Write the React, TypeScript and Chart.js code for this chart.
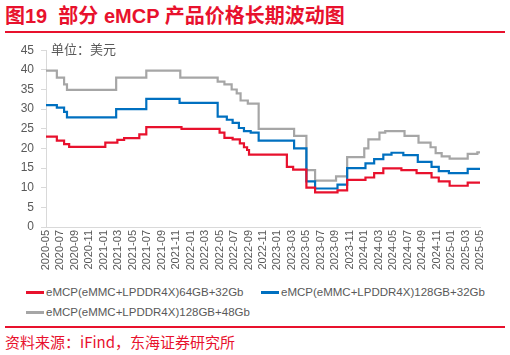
import React, { useEffect, useRef } from "react";
import { Chart, registerables } from "chart.js";

Chart.register(...registerables);

// ---- data ----
const TICK_LABELS = [
  "2020-05", "2020-07", "2020-09", "2020-11", "2021-01", "2021-03", "2021-05", "2021-07",
  "2021-09", "2021-11", "2022-01", "2022-03", "2022-05", "2022-07", "2022-09", "2022-11",
  "2023-01", "2023-03", "2023-05", "2023-07", "2023-09", "2023-11", "2024-01", "2024-03",
  "2024-05", "2024-07", "2024-09", "2024-11", "2025-01", "2025-03", "2025-05",
];

const SERIES_NAMES = [
  "eMCP(eMMC+LPDDR4X)64GB+32Gb",
  "eMCP(eMMC+LPDDR4X)128GB+32Gb",
  "eMCP(eMMC+LPDDR4X)128GB+48Gb",
];

// [date of price change, price in USD]
const SERIES_64GB_32Gb: [string, number][] = [
  ["2020-05-01", 23], ["2020-06-16", 22], ["2020-07-16", 21.1], ["2020-08-07", 20.4],
  ["2021-01-07", 21.5], ["2021-02-27", 22.2], ["2021-03-25", 22.6], ["2021-05-28", 23.6],
  ["2021-06-27", 25.4], ["2021-11-23", 25], ["2022-05-01", 24], ["2022-05-21", 22.7],
  ["2022-06-25", 22.3], ["2022-07-25", 21.3], ["2022-08-12", 20.3], ["2022-08-25", 19.6],
  ["2022-09-03", 18.4], ["2023-02-10", 15.3], ["2023-03-06", 14.6], ["2023-05-01", 10],
  ["2023-06-07", 8.8], ["2023-09-10", 9.3], ["2023-10-20", 12], ["2024-01-06", 12.6],
  ["2024-02-12", 13.7], ["2024-03-20", 14.9], ["2024-06-05", 14.5], ["2024-08-08", 13.7],
  ["2024-10-10", 12.6], ["2024-11-10", 11.6], ["2024-12-25", 10.5], ["2025-03-10", 11.3],
  ["2025-05-01", 11.3],
];

const SERIES_128GB_32Gb: [string, number][] = [
  ["2020-05-01", 31], ["2020-06-16", 30.4], ["2020-07-16", 29.3], ["2020-07-28", 27.9],
  ["2021-02-22", 30], ["2021-06-27", 32.6], ["2021-11-15", 31.6], ["2022-04-23", 28.1],
  ["2022-06-01", 27.3], ["2022-06-25", 26.5], ["2022-07-21", 25.2], ["2022-08-12", 24.4],
  ["2022-09-10", 24], ["2022-10-13", 22], ["2023-03-10", 20], ["2023-05-01", 11.6],
  ["2023-06-07", 9.8], ["2023-09-10", 10.8], ["2023-10-20", 15], ["2024-01-06", 16.2],
  ["2024-02-12", 17.3], ["2024-03-20", 18.4], ["2024-04-24", 18.9], ["2024-06-13", 18.3],
  ["2024-08-13", 16.6], ["2024-10-10", 15.3], ["2024-11-10", 14.2], ["2024-12-22", 13.7],
  ["2025-03-10", 14.8], ["2025-05-01", 14.8],
];

const SERIES_128GB_48Gb: [string, number][] = [
  ["2020-05-01", 39.8], ["2020-06-16", 38], ["2020-07-16", 36.3], ["2020-07-28", 34.9],
  ["2021-02-22", 38], ["2021-06-27", 39.8], ["2021-11-18", 38], ["2022-04-23", 37],
  ["2022-05-21", 36.3], ["2022-06-21", 35], ["2022-07-12", 34], ["2022-07-28", 32.2],
  ["2022-08-28", 31.4], ["2022-10-13", 25], ["2023-03-10", 23.2], ["2023-05-01", 14.5],
  ["2023-06-07", 11.8], ["2023-09-04", 12.9], ["2023-10-20", 17.8], ["2024-01-01", 20],
  ["2024-01-18", 22.3], ["2024-03-04", 24], ["2024-03-28", 24.4], ["2024-06-18", 23.2],
  ["2024-08-16", 21.5], ["2024-10-06", 20.3], ["2024-10-27", 18.8], ["2024-11-22", 18],
  ["2024-12-25", 17.4], ["2025-03-10", 18.6], ["2025-04-20", 19], ["2025-05-01", 19],
];

const COLORS = ["#E8112D", "#0070C0", "#A6A6A6"];

const START_YEAR = 2020;
const START_MONTH = 5;

function monthIndex(date: string): number {
  const [y, m, d] = date.split("-").map(Number);
  return (y - START_YEAR) * 12 + (m - START_MONTH) + (d - 1) / 30;
}

function toPoints(series: [string, number][]) {
  return series.map(([d, v]) => ({ x: monthIndex(d), y: v }));
}

const FONT_LATIN = '"Liberation Sans", Arial, "Noto Sans CJK SC", sans-serif';

export default function App() {
  const ref = useRef<HTMLCanvasElement | null>(null);

  useEffect(() => {
    if (!ref.current) return;
    const allSeries = [SERIES_64GB_32Gb, SERIES_128GB_32Gb, SERIES_128GB_48Gb];
    const chart = new Chart(ref.current, {
      type: "line",
      data: {
        datasets: allSeries.map((s, i) => ({
          label: SERIES_NAMES[i],
          data: toPoints(s),
          borderColor: COLORS[i],
          backgroundColor: COLORS[i],
          borderWidth: 2.2,
          pointRadius: 0,
          stepped: true,
          fill: false,
        })),
      },
      options: {
        responsive: false,
        maintainAspectRatio: false,
        animation: false,
        layout: { padding: { left: 0, right: 30, top: 9, bottom: 3 } },
        plugins: {
          legend: { display: false },
          tooltip: { enabled: false },
        },
        scales: {
          x: {
            type: "linear",
            min: 0,
            max: (TICK_LABELS.length - 1) * 2,
            afterFit: (scale: any) => {
              scale.height = 46;
            },
            afterBuildTicks: (scale: any) => {
              scale.ticks = TICK_LABELS.map((_, i) => ({ value: i * 2 }));
            },
            ticks: {
              autoSkip: false,
              minRotation: 90,
              maxRotation: 90,
              padding: 3,
              color: "#595959",
              font: { size: 11, family: FONT_LATIN },
              callback: (v: any) => TICK_LABELS[Math.round(Number(v) / 2)] ?? "",
            },
            grid: { display: true, drawOnChartArea: false, drawTicks: false, color: "#D9D9D9" },
            border: { display: true, color: "#D9D9D9", width: 1 },
          },
          y: {
            min: 0,
            max: 45,
            afterFit: (scale: any) => {
              scale.width = 46;
            },
            ticks: {
              stepSize: 5,
              padding: 7,
              color: "#595959",
              font: { size: 12, family: FONT_LATIN },
            },
            grid: { display: true, drawOnChartArea: false, drawTicks: true, tickLength: 5, color: "#D9D9D9" },
            border: { display: true, color: "#D9D9D9", width: 1 },
          },
        },
      },
    } as any);
    return () => chart.destroy();
  }, []);

  const red = "#E8112D";
  const legendItem = (i: number, left: number, top: number) => (
    <div key={i} style={{ position: "absolute", left, top, height: 14, display: "flex", alignItems: "center" }}>
      <div style={{ width: 18, height: 3, background: COLORS[i], marginRight: 2 }} />
      <span style={{ fontSize: 11.5, lineHeight: "14px", color: "#595959", fontFamily: FONT_LATIN, whiteSpace: "nowrap" }}>
        {SERIES_NAMES[i]}
      </span>
    </div>
  );

  return (
    <div style={{ position: "absolute", left: 0, top: 0, width: 510, height: 355, background: "#fff", overflow: "hidden" }}>
      <div
        style={{
          position: "absolute",
          left: 5,
          top: 3,
          fontSize: 20,
          fontWeight: 700,
          color: red,
          fontFamily: FONT_LATIN,
          lineHeight: "26px",
          whiteSpace: "pre",
        }}
      >
        图19  部分 eMCP 产品价格长期波动图
      </div>
      <div style={{ position: "absolute", left: 5, top: 31, width: 500, height: 2, background: red }} />
      <canvas ref={ref} width={510} height={240} style={{ position: "absolute", left: 0, top: 36, width: 510, height: 240 }} />
      <div
        style={{
          position: "absolute",
          left: 51,
          top: 41,
          fontSize: 13,
          color: "#595959",
          fontFamily: '"Noto Sans CJK SC", sans-serif',
          lineHeight: "16px",
        }}
      >
        单位：美元
      </div>
      {legendItem(0, 26, 285)}
      {legendItem(1, 261, 285)}
      {legendItem(2, 26, 305)}
      <div style={{ position: "absolute", left: 5, top: 326, width: 500, height: 1.5, background: red }} />
      <div
        style={{
          position: "absolute",
          left: 5,
          top: 332,
          fontSize: 15,
          color: red,
          fontFamily: '"Noto Sans CJK SC", "Liberation Sans", sans-serif',
          lineHeight: "20px",
          whiteSpace: "nowrap",
        }}
      >
        资料来源：iFind，东海证券研究所
      </div>
    </div>
  );
}
